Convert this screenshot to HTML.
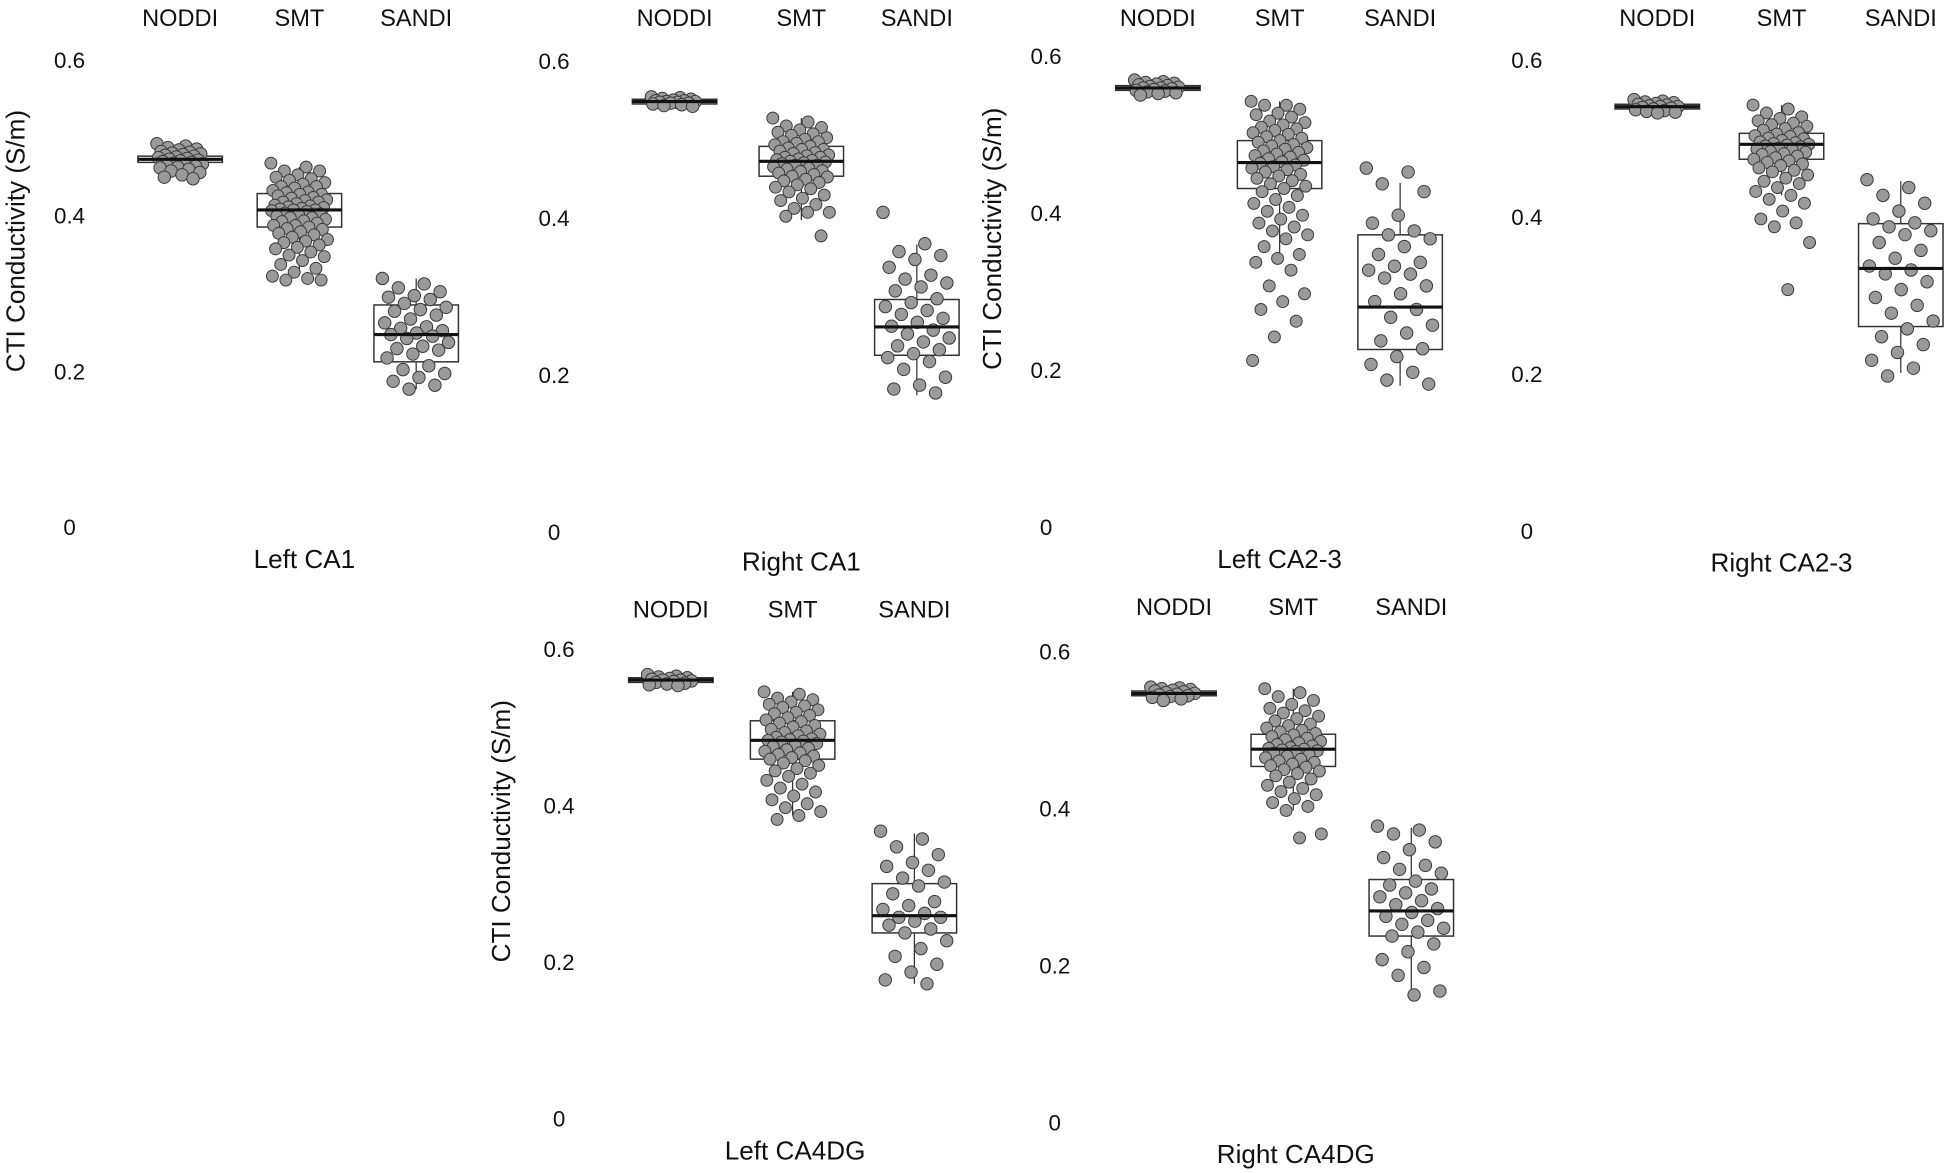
<!DOCTYPE html>
<html><head><meta charset="utf-8"><style>
html,body{margin:0;padding:0;background:#fff;}
svg{display:block;font-family:"Liberation Sans",sans-serif;}
</style></head><body>
<svg id="chart" width="1948" height="1173" viewBox="0 0 1568 944" preserveAspectRatio="none" xmlns="http://www.w3.org/2000/svg"></svg>
<script>
const categories = ['NODDI','SMT','SANDI'];
const panelTitles = ['Left CA1','Right CA1','Left CA2-3','Right CA2-3','Left CA4DG','Right CA4DG'];
const yTicks = [0, 0.2, 0.4, 0.6];
const yTickLabels = ['0','0.2','0.4','0.6'];
const medians = [[0.475,0.41,0.25],[0.551,0.475,0.264],[0.562,0.467,0.283],[0.543,0.495,0.337],[0.563,0.486,0.262],[0.549,0.478,0.272]];
const q1s = [[0.471,0.388,0.215],[0.548,0.456,0.228],[0.559,0.434,0.229],[0.540,0.476,0.263],[0.560,0.462,0.240],[0.546,0.456,0.240]];
const q3s = [[0.479,0.431,0.288],[0.554,0.494,0.299],[0.565,0.495,0.375],[0.546,0.509,0.394],[0.566,0.511,0.303],[0.552,0.497,0.312]];
const whiskLo = [[0.465,0.33,0.18],[0.545,0.40,0.177],[0.553,0.35,0.183],[0.535,0.43,0.204],[0.556,0.39,0.175],[0.542,0.40,0.166]];
const whiskHi = [[0.486,0.465,0.322],[0.557,0.53,0.369],[0.572,0.545,0.441],[0.552,0.545,0.448],[0.570,0.548,0.367],[0.557,0.555,0.378]];
const noddiPts = [
 [.495,.492,.49,.488,.487,.485,.484,.483,.482,.481,.48,.479,.478,.477,.476,.475,.474,.473,.472,.471,.47,.469,.468,.467,.466,.465,.464,.462,.46,.458,.455,.452,.45],
 [.557,.556,.555,.554,.553,.552,.552,.551,.551,.55,.55,.549,.549,.548,.547,.546,.545],
 [.572,.57,.569,.568,.567,.566,.565,.564,.563,.562,.562,.561,.56,.559,.558,.557,.556,.555,.553],
 [.552,.55,.549,.548,.547,.546,.545,.544,.543,.543,.542,.541,.54,.539,.538,.537,.536,.535],
 [.57,.568,.567,.566,.565,.564,.563,.563,.562,.561,.56,.559,.558,.557,.556],
 [.557,.556,.555,.554,.553,.552,.551,.55,.549,.548,.547,.546,.545,.544,.542,.54]
];
const smtPts = [
 [.47,.465,.46,.46,.455,.452,.45,.448,.445,.443,.44,.44,.438,.435,.433,.432,.43,.43,.428,.426,.425,.423,.422,.42,.42,.418,.416,.415,.414,.413,.412,.411,.41,.41,.409,.408,.406,.405,.404,.402,.4,.4,.398,.396,.395,.393,.39,.39,.388,.386,.385,.382,.38,.378,.375,.372,.37,.368,.365,.362,.36,.356,.352,.35,.345,.34,.335,.33,.325,.322,.32,.32],
 [.53,.525,.52,.518,.515,.512,.51,.508,.505,.503,.5,.5,.498,.496,.494,.492,.49,.49,.488,.486,.485,.483,.482,.48,.48,.478,.477,.476,.475,.474,.473,.472,.47,.47,.468,.466,.465,.463,.462,.46,.458,.456,.455,.452,.45,.448,.445,.442,.44,.436,.432,.428,.425,.42,.415,.41,.41,.405,.38],
 [.545,.54,.54,.535,.53,.528,.525,.52,.518,.515,.512,.51,.508,.505,.503,.5,.498,.495,.493,.49,.488,.486,.484,.482,.48,.478,.476,.474,.472,.47,.468,.466,.464,.462,.46,.458,.455,.452,.45,.447,.444,.44,.437,.434,.43,.425,.42,.415,.41,.405,.4,.395,.39,.385,.38,.375,.37,.36,.35,.345,.34,.33,.31,.3,.29,.28,.265,.245,.215],
 [.545,.54,.535,.53,.528,.525,.522,.52,.518,.515,.513,.51,.508,.506,.505,.503,.502,.5,.498,.497,.496,.495,.494,.493,.492,.49,.489,.488,.486,.485,.483,.482,.48,.478,.476,.474,.472,.47,.468,.465,.462,.46,.456,.452,.448,.445,.44,.435,.43,.425,.42,.41,.4,.395,.39,.37,.31],
 [.548,.545,.54,.538,.535,.532,.53,.528,.525,.522,.52,.518,.515,.512,.51,.508,.505,.503,.5,.498,.496,.494,.492,.49,.488,.487,.486,.485,.484,.482,.48,.478,.476,.474,.472,.47,.468,.466,.464,.462,.46,.457,.454,.45,.447,.444,.44,.435,.43,.425,.42,.415,.41,.405,.4,.395,.39,.385],
 [.555,.55,.545,.54,.535,.53,.527,.524,.52,.517,.514,.51,.508,.505,.502,.5,.498,.496,.494,.492,.49,.488,.486,.484,.482,.48,.479,.478,.477,.476,.475,.473,.471,.469,.467,.465,.463,.461,.459,.457,.455,.452,.45,.447,.444,.44,.436,.432,.428,.424,.42,.415,.41,.405,.4,.37,.365]
];
const sandiPts = [
 [.322,.315,.31,.305,.3,.298,.295,.29,.285,.282,.28,.275,.27,.265,.26,.258,.255,.252,.25,.248,.245,.24,.235,.232,.23,.225,.22,.21,.205,.2,.195,.19,.185,.18],
 [.41,.37,.36,.355,.35,.34,.33,.325,.32,.315,.31,.3,.295,.29,.285,.28,.275,.27,.265,.26,.255,.25,.245,.24,.235,.23,.225,.22,.21,.2,.19,.185,.18],
 [.46,.455,.44,.43,.4,.39,.38,.375,.37,.36,.35,.34,.335,.33,.325,.32,.31,.3,.29,.28,.27,.26,.25,.24,.23,.22,.21,.2,.19,.185],
 [.45,.44,.43,.42,.41,.4,.395,.39,.385,.38,.37,.36,.35,.34,.335,.33,.32,.31,.3,.29,.28,.27,.26,.25,.24,.23,.22,.21,.2],
 [.37,.36,.35,.34,.33,.325,.32,.31,.305,.3,.29,.28,.275,.27,.265,.26,.26,.255,.25,.245,.24,.23,.22,.21,.2,.19,.18,.175],
 [.38,.375,.37,.36,.35,.34,.33,.325,.32,.31,.305,.3,.295,.29,.285,.28,.275,.27,.265,.26,.255,.25,.245,.24,.23,.22,.21,.2,.19,.17,.165]
];

const layout = [
 {y0:426,k:627,tickX:56,cx:[145,241,335],catY:21,tx:245,ty:457,yt:14},
 {y0:430,k:632,tickX:446,cx:[543,645,738],catY:21,tx:645,ty:459,yt:null},
 {y0:426,k:632,tickX:842,cx:[932,1030,1127],catY:21,tx:1030,ty:457,yt:800},
 {y0:429,k:632,tickX:1229,cx:[1334,1434,1530],catY:21,tx:1434,ty:460,yt:null},
 {y0:902,k:630,tickX:450,cx:[540,638,736],catY:497,tx:640,ty:933,yt:405},
 {y0:905,k:632,tickX:849,cx:[945,1041,1136],catY:495,tx:1043,ty:936,yt:null}
];
const NS='http://www.w3.org/2000/svg';
const svg=document.getElementById('chart');
function mk(tag,attrs,parent){const e=document.createElementNS(NS,tag);for(const a in attrs)e.setAttribute(a,attrs[a]);(parent||svg).appendChild(e);return e;}
const jitterW=[22,27,32];
layout.forEach((L,p)=>{
  const y=v=>L.y0-v*L.k;
  const g=mk('g',{});
  
  
  yTicks.forEach((t,i)=>{
    const tx=mk('text',{x:L.tickX,y:y(t),'text-anchor':'middle','dominant-baseline':'middle','font-size':18,fill:'#111'},g);
    tx.textContent=yTickLabels[i];
    
    
  });
  if(L.yt!==null){
    const cy=L.y0-0.37*L.k;
    const t=mk('text',{x:L.yt,y:cy,'text-anchor':'middle','dominant-baseline':'middle','font-size':21,fill:'#111',transform:`rotate(-90 ${L.yt} ${cy})`},g);
    t.textContent='CTI Conductivity (S/m)';
    
    
  }
  const tt=mk('text',{x:L.tx,y:L.ty,'text-anchor':'middle','font-size':21,fill:'#111'},g);
  tt.textContent=panelTitles[p];
  
  
  const groups=[noddiPts[p],smtPts[p],sandiPts[p]];
  categories.forEach((c,ci)=>{
    const x=L.cx[ci];
    const cl=mk('text',{x:x,y:L.catY,'text-anchor':'middle','font-size':19,fill:'#111'},g);
    cl.textContent=c;
    
    
    const bw=34;
    const wl=mk('line',{x1:x,x2:x,y1:y(whiskHi[p][ci]),y2:y(whiskLo[p][ci]),stroke:'#333','stroke-width':1},g);
    
    
    const box=mk('rect',{x:x-bw,y:y(q3s[p][ci]),width:2*bw,height:Math.max(2,y(q1s[p][ci])-y(q3s[p][ci])),fill:'#fff',stroke:'#333','stroke-width':1.2},g);
    
    
    groups[ci].forEach((v,i)=>{
      const j=((i*0.6180339)%1)-0.5;
      const pt=mk('circle',{cx:x+j*2*jitterW[ci]*0.85,cy:y(v),r:ci===1?4.8:5,fill:'#9a9a9a',stroke:'#3a3a3a','stroke-width':0.8},g);
      
      
    });
    const md=mk('line',{x1:x-bw,x2:x+bw,y1:y(medians[p][ci]),y2:y(medians[p][ci]),stroke:'#111','stroke-width':2.5},g);
    
    
  });
});
</script>
</body></html>
